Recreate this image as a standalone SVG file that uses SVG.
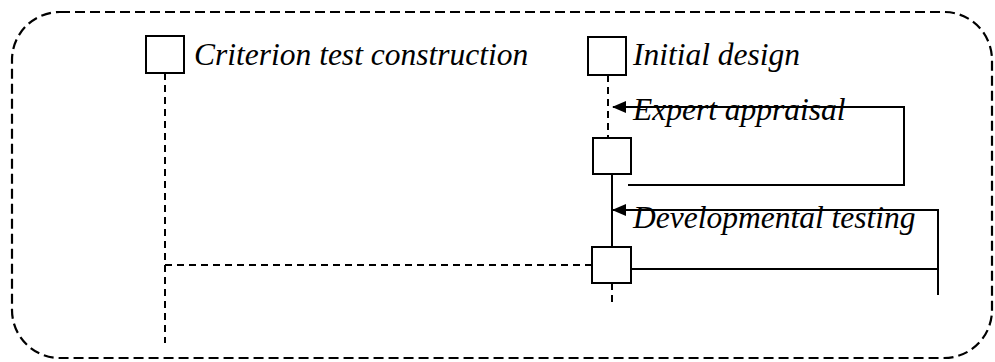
<svg xmlns="http://www.w3.org/2000/svg" width="995" height="362" viewBox="0 0 995 362">
<style>
.box{fill:#fff;stroke:#000;stroke-width:2}
.dash{fill:none;stroke:#000;stroke-width:2;stroke-dasharray:7 5}
.solid{fill:none;stroke:#000;stroke-width:2}
.lbl{font-family:"Liberation Serif","Times New Roman",serif;font-style:italic;font-size:31.5px;fill:#000}
</style>
<defs>
<marker id="ah" markerWidth="14" markerHeight="12" refX="13" refY="6" orient="auto" markerUnits="userSpaceOnUse">
<path d="M0,0 L14,6 L0,12 Z" fill="#000"/>
</marker>
</defs>
<rect x="12" y="12" width="980" height="346" rx="48" ry="48" fill="none" stroke="#000" stroke-width="2.2" stroke-dasharray="10 5"/>
<g id="connectors">
<path class="dash" d="M165,73 V343"/>
<path class="dash" d="M165,265 H592"/>
<path class="dash" d="M608,75 V138"/>
<path class="solid" d="M612,156 V247"/>
<path class="dash" d="M612,283 V302"/>
<path class="solid" d="M628,185 H904 V107 H613" marker-end="url(#ah)"/>
<path class="solid" d="M631,269 H938 V295"/>
<path class="solid" d="M938,269 V210 H613" marker-end="url(#ah)"/>
</g>
<g id="criterion">
<rect class="box" x="146" y="36" width="38" height="37"/>
<text class="lbl" x="194" y="65">Criterion test construction</text>
</g>
<g id="initial">
<rect class="box" x="588" y="37" width="38" height="38"/>
<text class="lbl" x="633" y="65">Initial design</text>
</g>
<g id="expert">
<rect class="box" x="593" y="138" width="38" height="36"/>
<text class="lbl" x="633" y="120">Expert appraisal</text>
</g>
<g id="developmental">
<rect class="box" x="592" y="247" width="39" height="36"/>
<text class="lbl" x="633" y="228">Developmental testing</text>
</g>
</svg>
